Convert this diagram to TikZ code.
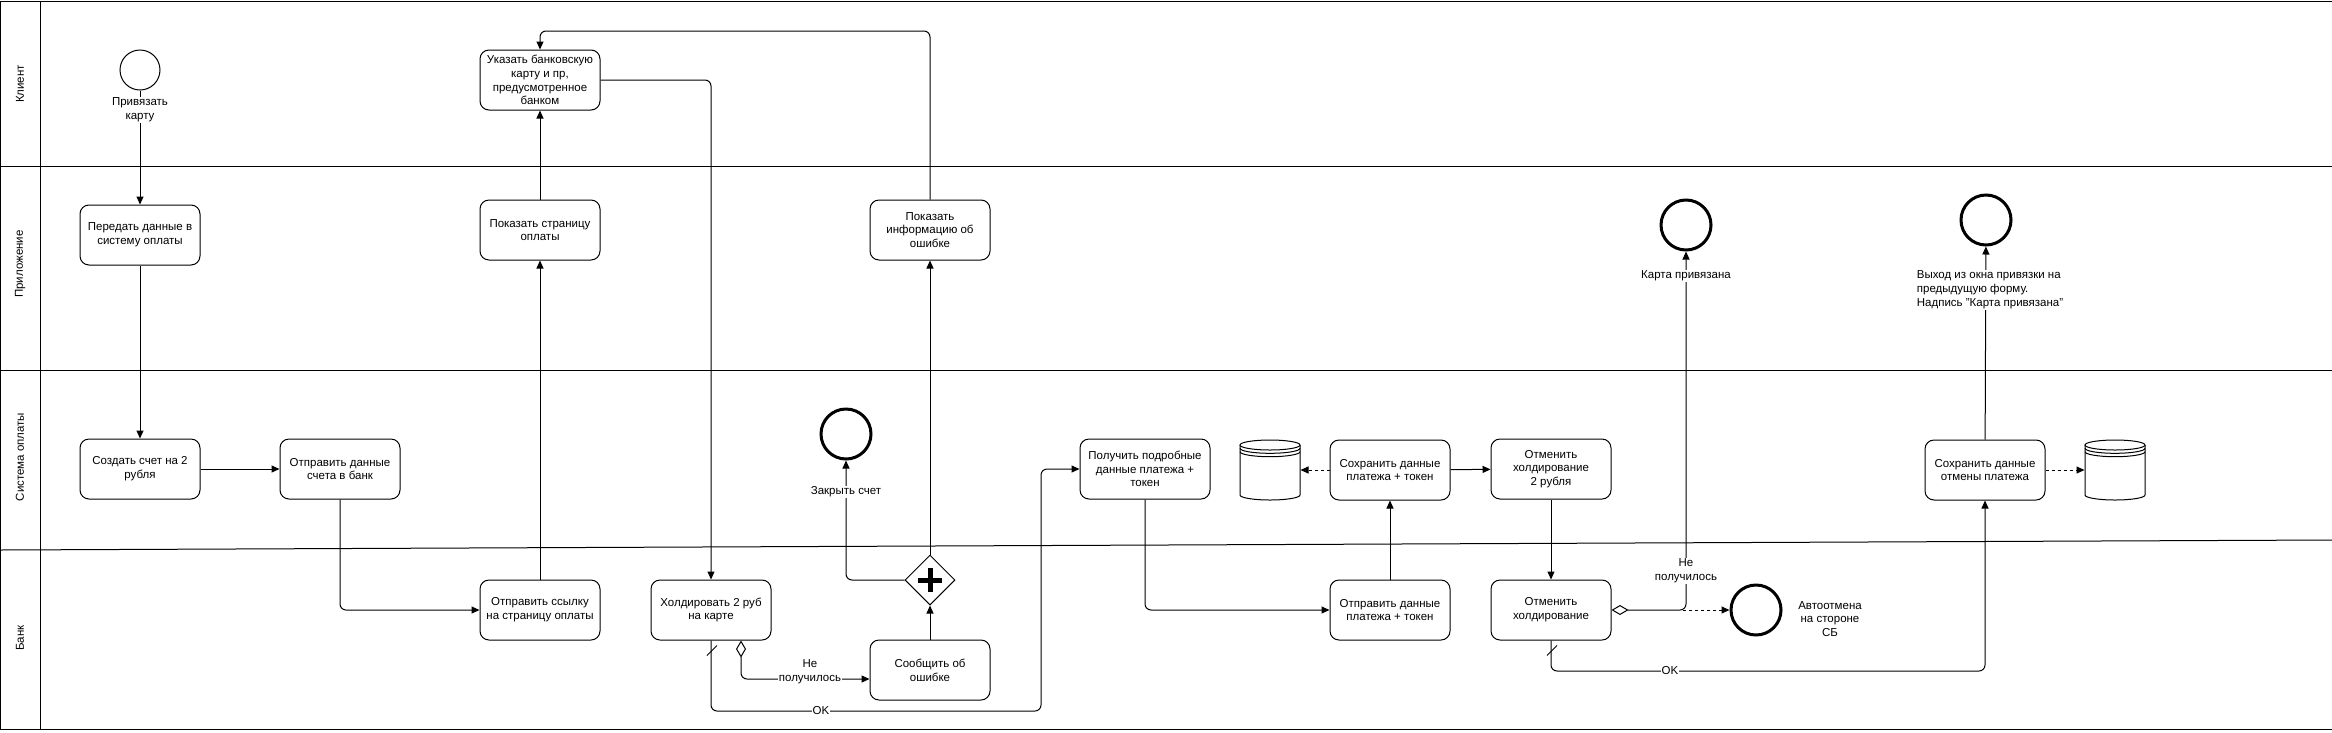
\documentclass[tikz,border=0pt]{standalone}
\usepackage{fontspec}
\setmainfont{Liberation Sans}
\usetikzlibrary{arrows.meta,shapes.geometric,calc}

% data store drawn round an empty node of 60 x 60
\newcommand{\datastore}[1]{%
  \begin{scope}[shift={(#1.center)}]
    \draw[fill=white] (-30,-25) -- (-30,25) arc[start angle=180, end angle=0, x radius=30, y radius=5] -- (30,-25);
    \draw[fill=white] (0,-25) ellipse[x radius=30, y radius=5];
    \draw (-30,-21.7) arc[start angle=180, end angle=0, x radius=30, y radius=5];
    \draw (-30,-18.3) arc[start angle=180, end angle=0, x radius=30, y radius=5];
  \end{scope}}

\begin{document}
\begin{tikzpicture}[x=1pt, y=-1pt, line width=1pt,
    every node/.style={font=\fontsize{11.5}{13.8}\selectfont, align=center},
    task/.style={draw, fill=white, rounded corners=9pt, minimum width=120pt, minimum height=60pt, inner sep=2pt},
    startev/.style={draw, circle, minimum size=40pt, inner sep=0pt},
    endev/.style={draw, circle, line width=3pt, minimum size=50pt, inner sep=0pt},
    store/.style={minimum size=60pt, inner sep=0pt},
    lbl/.style={fill=white, inner sep=1pt},
    flow/.style={-{Triangle[length=8pt, width=7pt]}, rounded corners=6pt},
    cond/.style={flow, {Diamond[open, length=17pt, width=10pt]}-{Triangle[length=8pt, width=7pt]}},
    assoc/.style={dashed, -{Triangle[length=8pt, width=7pt]}},
    lanelbl/.style={rotate=90}]
  \useasboundingbox (0,0) rectangle (2332,732);

  % lanes
  \draw (0,1) -- (2332,1);
  \draw (0,166) -- (2332,166);
  \draw (0,370) -- (2332,370);
  \draw (0,550) -- (2332,540);
  \draw (0,729) -- (2332,729);
  \draw (0.5,1) -- (0.5,729);
  \draw (40,1) -- (40,729);
  \node[lanelbl] (laneClient) at (20,84) {Клиент};
  \node[lanelbl] (laneApp) at (20,264) {Приложение};
  \node[lanelbl] (lanePay) at (20,457) {Система оплаты};
  \node[lanelbl] (laneBank) at (20,638) {Банк};

  % events, tasks, gateway
  \node[startev] (bindStart) at (140,70) {};
  \node[task] (sendData) at (140,235) {Передать данные в\\систему оплаты};
  \node[task] (createBill) at (140,469) {Создать счет на 2\\рубля};
  \node[task] (sendBill) at (340,469) {Отправить данные\\счета в банк};
  \node[task] (sendLink) at (540,610) {Отправить ссылку\\на страницу оплаты};
  \node[task] (showPage) at (540,230) {Показать страницу\\оплаты};
  \node[task] (enterCard) at (540,80) {Указать банковскую\\карту и пр,\\предусмотренное\\банком};
  \node[task] (hold) at (711,610) {Холдировать 2 руб\\на карте};
  \node[task] (reportErr) at (930,670) {Сообщить об\\ошибке};
  \node[draw, diamond, fill=white, minimum size=50pt, inner sep=0pt] (gate) at (930,580) {};
  \draw[line width=5pt] ($(gate.center)+(-12,0)$) -- ($(gate.center)+(12,0)$)
    ($(gate.center)+(0,-12)$) -- ($(gate.center)+(0,12)$);
  \node[endev] (closeEnd) at (846,434) {};
  \node[task] (showErr) at (930,230) {Показать\\информацию об\\ошибке};
  \node[task, minimum width=130pt] (getData) at (1145,469) {Получить подробные\\данные платежа +\\токен};
  \node[task] (sendPay) at (1390,610) {Отправить данные\\платежа + токен};
  \node[task] (savePay) at (1390,470) {Сохранить данные\\платежа + токен};
  \node[store] (dbA) at (1270,470) {};
  \datastore{dbA}
  \node[task] (cancelHoldSys) at (1551,469) {Отменить\\холдирование\\2 рубля};
  \node[task] (cancelHold) at (1551,610) {Отменить\\холдирование};
  \node[endev] (autoEnd) at (1756,610) {};
  \node (autoLbl) at (1830,619) {Автоотмена\\на стороне\\СБ};
  \node[endev] (boundEnd) at (1686,225) {};
  \node[task] (saveCancel) at (1985,470) {Сохранить данные\\отмены платежа};
  \node[store] (dbB) at (2115,470) {};
  \datastore{dbB}
  \node[endev] (exitEnd) at (1986,220) {};

  \coordinate (loopTop) at (700,31);
  \coordinate (okBend) at (1041,711);
  \coordinate (autoFork) at (1683,610);
  \coordinate (okBendTwo) at (1985,671);

  % flows
  \draw[flow] (bindStart) -- (sendData);
  \draw[flow] (sendData) -- (createBill);
  \draw[flow] (createBill) -- (sendBill);
  \draw[flow] (sendBill) |- (sendLink);
  \draw[flow] (sendLink) -- (showPage);
  \draw[flow] (showPage) -- (enterCard);
  \draw[flow] (enterCard) -| (hold);
  \draw[flow] (hold.south) |- (okBend) |- (getData.west);
  \draw ($(hold.south)+(-4,15)$) -- ($(hold.south)+(6,5)$);
  \draw[cond] ($(hold.south)+(30,0)$) |- ($(reportErr.west)+(0,9)$);
  \draw[flow] (reportErr) -- (gate);
  \draw[flow] (gate.west) -| (closeEnd);
  \draw[flow] (gate) -- (showErr);
  \draw[flow] (showErr.north) |- (loopTop) -| (enterCard.north);
  \draw[flow] (getData.south) |- (sendPay.west);
  \draw[flow] (sendPay) -- (savePay);
  \draw[assoc] (savePay) -- (dbA);
  \draw[flow] (savePay) -- (cancelHoldSys);
  \draw[flow] (cancelHoldSys) -- (cancelHold);
  \draw[cond] (cancelHold.east) -| (boundEnd);
  \draw[assoc] (autoFork) -- (autoEnd);
  \draw[flow] (cancelHold.south) |- (okBendTwo) -- (saveCancel);
  \draw ($(cancelHold.south)+(-4,15)$) -- ($(cancelHold.south)+(6,5)$);
  \draw[assoc] (saveCancel) -- (dbB);
  \draw[flow] (saveCancel) -- (exitEnd);

  % labels on the flows
  \node[lbl] (bindLbl) at (140,110) {Привязать\\карту};
  \node[lbl] (closeLbl) at (846,492) {Закрыть счет};
  \node[lbl] (failOne) at (810,672) {Не\\получилось};
  \node[lbl] (okOne) at (821,711) {OK};
  \node[lbl] (failTwo) at (1686,571) {Не\\получилось};
  \node[lbl] (okTwo) at (1670,671) {OK};
  \node[lbl] (boundLbl) at (1686,276) {Карта привязана};
  \node[lbl, align=left] (exitLbl) at (1990,290) {Выход из окна привязки на\\предыдущую форму.\\Надпись "Карта привязана"};
\end{tikzpicture}
\end{document}
